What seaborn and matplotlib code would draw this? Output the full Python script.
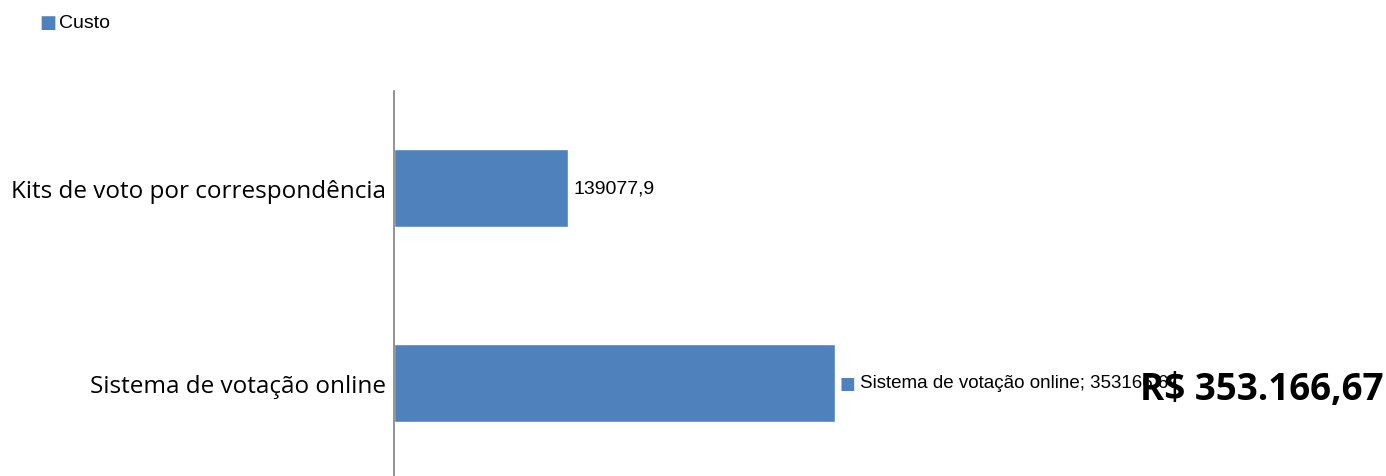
import matplotlib
matplotlib.use("Agg")
import matplotlib.pyplot as plt
import seaborn as sns
import pandas as pd

categorias = ["Kits de voto por correspondência", "Sistema de votação online"]
custos = [139077.9, 353166.67]
rotulos = ["139077,9", "Sistema de votação online; 353166,67"]
serie = "Custo"
destaque = "R$ 353.166,67"

cor = "#4F81BD"
narrow = ["Liberation Sans Narrow", "Liberation Sans", "DejaVu Sans"]

sns.set_style("white")
plt.rcParams["text.color"] = "black"

df = pd.DataFrame({"categoria": categorias, "custo": custos})

fig = plt.figure(figsize=(13.86, 4.77), dpi=100)
ax = fig.add_axes([394 / 1386, -4 / 477, (1386 - 394) / 1386, 389 / 477])

sns.barplot(data=df, y="categoria", x="custo", color=cor, saturation=1,
            width=0.4, ax=ax, orient="h")

ax.set_xlim(0, 795000)
ax.set_ylim(1.5, -0.5)
ax.set_xlabel("")
ax.set_ylabel("")
ax.set_xticks([])
for s in ["top", "right", "bottom"]:
    ax.spines[s].set_visible(False)
ax.spines["left"].set_color("#808080")
ax.spines["left"].set_linewidth(1.2)
ax.tick_params(axis="y", length=0, pad=6)
for lbl in ax.get_yticklabels():
    lbl.set_fontfamily(["Open Sans", "DejaVu Sans"])
    lbl.set_fontsize(17.5)
    lbl.set_color("black")

# rótulos de dados
ax.text(custos[0] + 5000, 0, rotulos[0], va="center", ha="left",
        fontsize=14, family=narrow, color="black")
ax.text(custos[1] + 4000, 1, "■", va="center", ha="left",
        fontsize=12, color=cor, family=["DejaVu Sans"])
ax.text(custos[1] + 20000, 1, rotulos[1], va="center", ha="left",
        fontsize=13.5, family=narrow, color="black")
ax.text(1384 / 1386, 1 - 390 / 477, destaque, transform=fig.transFigure,
        ha="right", va="center", fontsize=26.5, fontweight="bold",
        family=["Open Sans", "DejaVu Sans"], color="black")

# legenda
fig.text(39 / 1386, 1 - 23 / 477, "■", va="center", ha="left",
         fontsize=13, color=cor, family=["DejaVu Sans"])
fig.text(59 / 1386, 1 - 23 / 477, serie, va="center", ha="left",
         fontsize=14, family=narrow, color="black")

fig.savefig("out.png", dpi=100)
